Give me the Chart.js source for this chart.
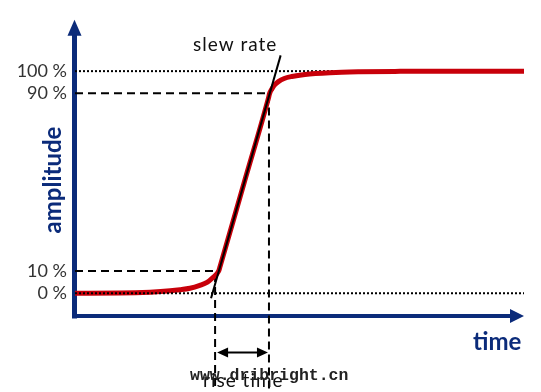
<!DOCTYPE html>
<html lang="en">
<head>
<meta charset="UTF-8">
<title>Rise time</title>
<script src="https://cdn.jsdelivr.net/npm/chart.js@4.4.0/dist/chart.umd.min.js"></script>
<style>
  html, body { margin: 0; padding: 0; background: #fff; }
  canvas { display: block; }
</style>
</head>
<body>
<canvas id="chart" width="541" height="392"></canvas>
<script>
// step response: time in % of the drawn span, amplitude in %
const responseTime = [0, 10.0, 16.7, 21.2, 23.4, 25.6, 27.8, 29.4, 30.6, 32.0, 32.3, 37.7, 43.1, 43.35, 43.85, 44.45, 45.3, 46.6, 48.3, 51.2, 56.8, 63.5, 72.4, 83.5, 100];
const responseAmp  = [0, 0.1,  0.5,  1.1,  1.6,  2.3,  3.6,  4.9,  6.9,  10,   12,   50,   88,   90,    92.0,  93.8,  95.3, 96.7, 97.6, 98.5, 99.3, 99.7, 99.9, 100,  100];

// tangent drawn through the rising edge
const slewTime = [30.3, 45.8];
const slewAmp  = [-2.2, 107.1];

// 10 % and 90 % crossings
const riseTime = [31.2, 43.2];
const riseLevels = [10, 90];

const yTicks = [0, 10, 90, 100];
const yTickLabels = ['0 %', '10 %', '90 %', '100 %'];

const navy = '#0b2b7a';

const pts = (xs, ys) => xs.map((v, i) => ({ x: v, y: ys[i] }));

const decor = {
    id: 'decor',
    beforeDatasetsDraw(chart) {
        const { ctx, chartArea: a } = chart;
        ctx.save();
        ctx.strokeStyle = navy;
        ctx.fillStyle = navy;
        ctx.lineWidth = 5;
        // y axis
        ctx.beginPath();
        ctx.moveTo(a.left - 0.5, a.bottom + 1.5);
        ctx.lineTo(a.left - 0.5, a.top + 14);
        ctx.stroke();
        ctx.beginPath();
        ctx.moveTo(a.left - 0.5, a.top + 1);
        ctx.lineTo(a.left - 7.5, a.top + 17);
        ctx.lineTo(a.left + 6.5, a.top + 17);
        ctx.closePath();
        ctx.fill();
        // x axis
        ctx.lineWidth = 4;
        ctx.beginPath();
        ctx.moveTo(a.left - 3, a.bottom - 1);
        ctx.lineTo(a.right - 12, a.bottom - 1);
        ctx.stroke();
        ctx.beginPath();
        ctx.moveTo(a.right, a.bottom - 1);
        ctx.lineTo(a.right - 14, a.bottom - 8);
        ctx.lineTo(a.right - 14, a.bottom + 6);
        ctx.closePath();
        ctx.fill();
        ctx.restore();
    },
    afterDraw(chart) {
        const { ctx, scales: { x, y } } = chart;
        ctx.save();
        // rise time arrow
        const x1 = x.getPixelForValue(riseTime[0]) + 2;
        const x2 = x.getPixelForValue(riseTime[1]) - 1;
        const ay = y.getPixelForValue(-26.7);
        ctx.strokeStyle = '#000';
        ctx.fillStyle = '#000';
        ctx.lineWidth = 2;
        ctx.beginPath();
        ctx.moveTo(x1 + 6, ay);
        ctx.lineTo(x2 - 6, ay);
        ctx.stroke();
        ctx.beginPath();
        ctx.moveTo(x1, ay); ctx.lineTo(x1 + 11, ay - 5); ctx.lineTo(x1 + 11, ay + 5); ctx.closePath();
        ctx.moveTo(x2, ay); ctx.lineTo(x2 - 11, ay - 5); ctx.lineTo(x2 - 11, ay + 5); ctx.closePath();
        ctx.fill();

        // texts
        ctx.textAlign = 'left';
        ctx.textBaseline = 'alphabetic';
        ctx.fillStyle = '#111';
        ctx.font = '19px Lato';
        ctx.letterSpacing = '1px';
        ctx.fillText('slew rate', 193, 51);
        ctx.fillText('rise time', 203, 387);
        ctx.letterSpacing = '0px';

        ctx.fillStyle = '#222';
        ctx.font = 'bold 16.5px "Liberation Mono"';
        ctx.fillText('www.dribright.cn', 190, 380);

        ctx.fillStyle = navy;
        ctx.font = 'bold 24px Lato';
        ctx.fillText('time', 473, 350);

        ctx.translate(61, 180);
        ctx.rotate(-Math.PI / 2);
        ctx.textAlign = 'center';
        ctx.fillText('amplitude', 0, 0);
        ctx.restore();
    }
};

new Chart(document.getElementById('chart'), {
    type: 'line',
    data: {
        datasets: [
            { label: 'slew', data: pts(slewTime, slewAmp), borderColor: '#000', borderWidth: 2, order: 0 },
            { label: '0 %', data: pts([0, 100], [0, 0]), borderColor: '#000', borderWidth: 2, borderDash: [2, 2], order: 1 },
            { label: 'response', data: pts(responseTime, responseAmp), borderColor: '#c8000a', borderWidth: 5,
              cubicInterpolationMode: 'monotone', order: 2 },
            { label: '100 %', data: pts([0, 100], [100, 100]), borderColor: '#000', borderWidth: 2, borderDash: [2, 2], order: 3 },
            { label: '10 %', data: pts([0, riseTime[0], riseTime[0]], [riseLevels[0], riseLevels[0], -43]),
              borderColor: '#000', borderWidth: 2, borderDash: [8, 5], clip: false, order: 3 },
            { label: '90 %', data: pts([0, riseTime[1], riseTime[1]], [riseLevels[1], riseLevels[1], -43]),
              borderColor: '#000', borderWidth: 2, borderDash: [8, 5], clip: false, order: 3 }
        ]
    },
    options: {
        responsive: false,
        animation: false,
        devicePixelRatio: 1,
        layout: { padding: { left: 0, right: 17, top: 15, bottom: 75 } },
        elements: { point: { radius: 0 }, line: { tension: 0 } },
        plugins: { legend: { display: false }, tooltip: { enabled: false } },
        scales: {
            x: { type: 'linear', min: 0, max: 100, display: false },
            y: {
                type: 'linear',
                min: -10.67,
                max: 123.56,
                afterFit: s => { s.width = 75; },
                afterBuildTicks: s => { s.ticks = yTicks.map(v => ({ value: v })); },
                grid: { display: false, drawTicks: false },
                border: { display: false },
                ticks: {
                    autoSkip: false,
                    padding: 8,
                    color: '#333',
                    font: { family: 'Lato', size: 18 },
                    callback: v => yTickLabels[yTicks.indexOf(v)]
                }
            }
        }
    },
    plugins: [decor]
});
</script>
</body>
</html>
